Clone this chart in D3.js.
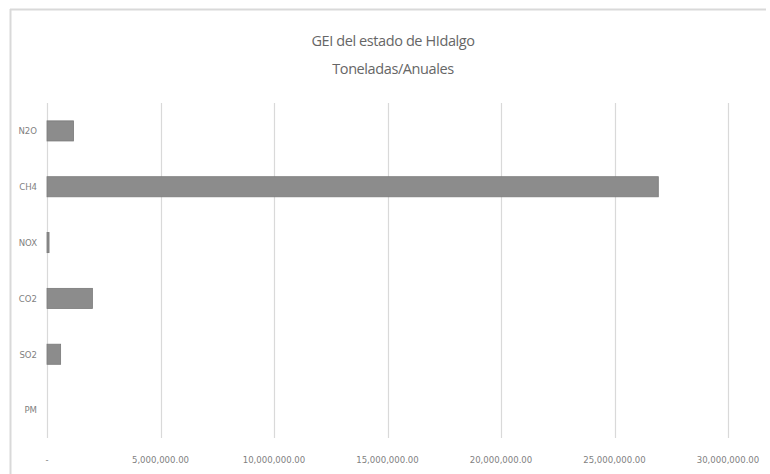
<!DOCTYPE html>
<html>
<head>
<meta charset="utf-8">
<script src="https://cdn.jsdelivr.net/npm/d3@7"></script>
<style>
  body { margin: 0; background: #fff; }
  svg { display: block; }
</style>
</head>
<body>
<svg id="chart"></svg>
<script>
const width = 770;
const height = 474;

// datos: toneladas anuales por gas, de arriba hacia abajo
const gases = ["N2O", "CH4", "NOX", "CO2", "SO2", "PM"];
const toneladas = [1170000, 26930000, 90000, 2000000, 600000, 0];
const ticks = [0, 5000000, 10000000, 15000000, 20000000, 25000000, 30000000];
const titleLines = ["GEI del estado de HIdalgo", "Toneladas/Anuales"];

const margin = { top: 103, right: 42, bottom: 36, left: 47 };
const tickFont = "'DejaVu Sans Condensed', 'Liberation Sans Narrow', sans-serif";

const svg = d3.select("#chart").attr("width", width).attr("height", height);

// frame lines (top and left)
svg.append("line")
  .attr("x1", 10).attr("x2", 766).attr("y1", 9.5).attr("y2", 9.5)
  .attr("stroke", "#d9d9d9").attr("stroke-width", 2);
svg.append("line")
  .attr("x1", 10.5).attr("x2", 10.5).attr("y1", 9).attr("y2", height)
  .attr("stroke", "#d9d9d9").attr("stroke-width", 2);

const x = d3.scaleLinear()
  .domain([0, 30000000])
  .range([margin.left, width - margin.right]);

const y = d3.scaleBand()
  .domain(gases)
  .range([margin.top, height - margin.bottom])
  .paddingInner(0.64)
  .paddingOuter(0.32);

// gridlines
svg.append("g")
  .selectAll("line")
  .data(ticks)
  .enter()
  .append("line")
  .attr("x1", d => Math.round(x(d)) + 0.5)
  .attr("x2", d => Math.round(x(d)) + 0.5)
  .attr("y1", margin.top)
  .attr("y2", height - margin.bottom)
  .attr("stroke", "#d9d9d9")
  .attr("stroke-width", 1.2);

// bars
svg.append("g")
  .selectAll("rect")
  .data(gases.map((g, i) => ({ gas: g, value: toneladas[i] })))
  .enter()
  .append("rect")
  .attr("x", x(0))
  .attr("y", d => y(d.gas))
  .attr("width", d => x(d.value) - x(0))
  .attr("height", y.bandwidth())
  .attr("fill", "#8c8c8c")
  .attr("stroke", d => d.value > 0 ? "#7a7a7a" : "none")
  .attr("stroke-width", 0.8);

// category labels
svg.append("g")
  .selectAll("text")
  .data(gases)
  .enter()
  .append("text")
  .attr("x", 37)
  .attr("y", d => y(d) + y.bandwidth() / 2)
  .attr("dy", "0.35em")
  .attr("text-anchor", "end")
  .style("font-family", tickFont)
  .style("font-size", "9.5px")
  .style("fill", "#7f7f7f")
  .text(d => d);

// value axis labels
const fmt = d => d === 0 ? "-" : d3.format(",.2f")(d);
svg.append("g")
  .selectAll("text")
  .data(ticks)
  .enter()
  .append("text")
  .attr("x", d => x(d))
  .attr("y", 463)
  .attr("text-anchor", "middle")
  .style("font-family", tickFont)
  .style("font-size", "9.5px")
  .style("fill", "#7f7f7f")
  .text(fmt);

// title
svg.append("g")
  .selectAll("text")
  .data(titleLines)
  .enter()
  .append("text")
  .attr("x", 393)
  .attr("y", (d, i) => 46 + i * 28)
  .attr("text-anchor", "middle")
  .style("font-family", "'Open Sans', sans-serif")
  .style("font-size", "14.5px")
  .style("letter-spacing", "-0.4px")
  .style("fill", "#666666")
  .text(d => d);
</script>
</body>
</html>
